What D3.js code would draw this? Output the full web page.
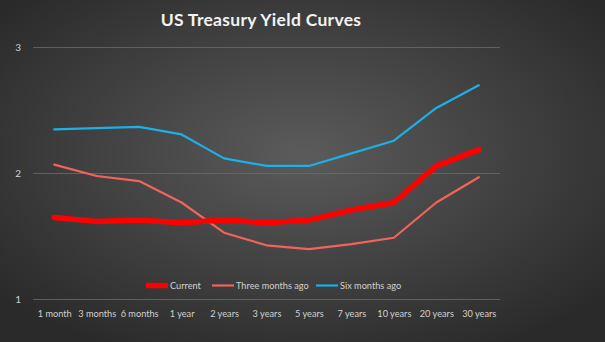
<!DOCTYPE html>
<html>
<head>
<meta charset="utf-8">
<script src="https://cdn.jsdelivr.net/npm/d3@7"></script>
<style>
  html, body { margin: 0; padding: 0; background: #333; }
  svg { display: block; }
</style>
</head>
<body>
<svg id="chart" width="605" height="342"></svg>
<script>
// Maturities along the curve
const maturities = ["1 month", "3 months", "6 months", "1 year", "2 years", "3 years",
                    "5 years", "7 years", "10 years", "20 years", "30 years"];

// Yields (%) for each curve
const current        = [1.65, 1.62, 1.63, 1.61, 1.63, 1.61, 1.63, 1.71, 1.77, 2.06, 2.19];
const threeMonthsAgo = [2.07, 1.98, 1.94, 1.77, 1.53, 1.43, 1.40, 1.44, 1.49, 1.77, 1.97];
const sixMonthsAgo   = [2.35, 2.36, 2.37, 2.31, 2.12, 2.06, 2.06, 2.16, 2.26, 2.52, 2.70];

const yTicks = [1, 2, 3];

const seriesList = [
  { name: "Current",          values: current,        color: "#ff0000", width: 5.5 },
  { name: "Three months ago", values: threeMonthsAgo, color: "#f2645a", width: 2.2 },
  { name: "Six months ago",   values: sixMonthsAgo,   color: "#1cb0e6", width: 2.2 }
];

const W = 605, H = 342;
const svg = d3.select("#chart");

// Background: dark radial gradient
const defs = svg.append("defs");
const grad = defs.append("radialGradient")
  .attr("id", "bg").attr("cx", "50%").attr("cy", "45%").attr("r", "65%");
grad.append("stop").attr("offset", "0%").attr("stop-color", "#5b5b5b");
grad.append("stop").attr("offset", "100%").attr("stop-color", "#2a2a2a");
svg.append("rect").attr("width", W).attr("height", H).attr("fill", "url(#bg)");

const font = "Lato, 'Open Sans', sans-serif";
const labelSize = "9.2px";

// Title
svg.append("text")
  .attr("x", 261).attr("y", 26)
  .attr("text-anchor", "middle")
  .attr("fill", "#f2f2f2")
  .style("font-family", font)
  .style("font-weight", "bold")
  .style("font-size", "17.5px")
  .style("letter-spacing", "0.3px")
  .text("US Treasury Yield Curves");

const plot = { left: 33, right: 500, top: 47.5, bottom: 299.5 };

const x = d3.scalePoint()
  .domain(maturities)
  .range([plot.left, plot.right])
  .padding(0.5);

const y = d3.scaleLinear()
  .domain([1, 3])
  .range([plot.bottom, plot.top]);

// Gridlines
svg.append("g")
  .selectAll("line")
  .data(yTicks)
  .join("line")
  .attr("x1", plot.left).attr("x2", plot.right)
  .attr("y1", d => y(d)).attr("y2", d => y(d))
  .attr("stroke", "#6b6b6b").attr("stroke-width", 0.8);

// Y axis labels
const yAxis = svg.append("g")
  .attr("transform", `translate(${plot.left - 9},0)`)
  .call(d3.axisLeft(y).tickValues(yTicks).tickSize(0).tickFormat(d3.format("d")));
yAxis.select(".domain").remove();
yAxis.selectAll("text")
  .attr("fill", "#d0d0d0")
  .style("font-family", font)
  .style("font-size", "10px");

// X axis labels
const xAxis = svg.append("g")
  .attr("transform", `translate(0,${plot.bottom + 6})`)
  .call(d3.axisBottom(x).tickSize(0));
xAxis.select(".domain").remove();
xAxis.selectAll("text")
  .attr("fill", "#d0d0d0")
  .attr("dy", "0.95em")
  .style("font-family", font)
  .style("font-size", labelSize);

// Curves
const line = d3.line()
  .x((d, i) => x(maturities[i]))
  .y(d => y(d));

svg.append("g")
  .selectAll("path")
  .data(seriesList.slice().reverse())
  .join("path")
  .attr("d", d => line(d.values))
  .attr("fill", "none")
  .attr("stroke", d => d.color)
  .attr("stroke-width", d => d.width)
  .attr("stroke-linejoin", "round")
  .attr("stroke-linecap", "round");

// Legend
const legendY = 285.5;
const legendX = [146, 212, 316];
const legend = svg.append("g")
  .selectAll("g")
  .data(seriesList)
  .join("g")
  .attr("transform", (d, i) => `translate(${legendX[i]},${legendY})`);
legend.append("line")
  .attr("x1", 0).attr("x2", 22)
  .attr("stroke", d => d.color)
  .attr("stroke-width", d => d.width);
legend.append("text")
  .attr("x", 24).attr("dy", "0.35em")
  .attr("fill", "#d0d0d0")
  .style("font-family", font)
  .style("font-size", labelSize)
  .text(d => d.name);
</script>
</body>
</html>
